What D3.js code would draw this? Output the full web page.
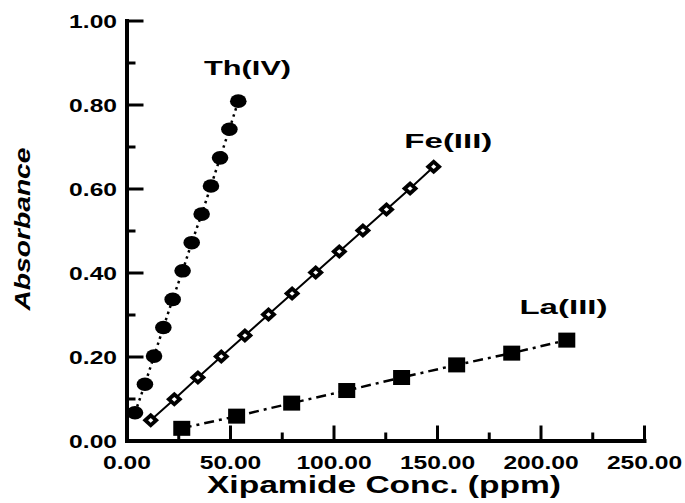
<!DOCTYPE html>
<html>
<head>
<meta charset="utf-8">
<script src="https://cdn.jsdelivr.net/npm/d3@7"></script>
<style>
  body { margin: 0; background: #fff; }
  text { font-family: "Liberation Sans", Arial, sans-serif; font-weight: bold; fill: #000; }
</style>
</head>
<body>
<div id="chart"></div>
<script>
// values
var thX = [4.1, 8.9, 13.3, 17.8, 22.3, 27.1, 31.5, 36.3, 40.8, 45.2, 49.7, 54.0];
var thY = [0.066, 0.134, 0.201, 0.269, 0.336, 0.404, 0.471, 0.539, 0.606, 0.673, 0.741, 0.808];

var feX = [11.7, 23.1, 34.5, 45.8, 57.2, 68.6, 80.0, 91.4, 102.8, 114.2, 125.6, 137.0, 148.4];
var feY = [0.048, 0.098, 0.150, 0.200, 0.250, 0.300, 0.350, 0.400, 0.450, 0.500, 0.550, 0.600, 0.652];

var laX = [26.7, 53.2, 79.8, 106.4, 132.9, 159.5, 186.1, 212.7];
var laY = [0.029, 0.058, 0.089, 0.119, 0.150, 0.180, 0.208, 0.239];

var xTicks = [0, 50, 100, 150, 200, 250];
var xMinor = [25, 75, 125, 175, 225];
var yTicks = [0, 0.2, 0.4, 0.6, 0.8, 1.0];
var yMinor = [0.1, 0.3, 0.5, 0.7, 0.9];

var seriesLabels = ["Th(IV)", "Fe(III)", "La(III)"];
var labelX = [58.5, 155.5, 211.1];
var labelY = [0.870, 0.696, 0.302];

var svgWidth = 685;
var svgHeight = 503;
var margin = { top: 20.5, left: 126.5 };
var width = 644 - margin.left;
var height = 440.5 - margin.top;

var svg = d3.select("#chart")
  .append("svg")
  .attr("width", svgWidth)
  .attr("height", svgHeight);

var chartGroup = svg.append("g")
  .attr("transform", `translate(${margin.left}, ${margin.top})`);

var xScale = d3.scaleLinear().domain([0, 250]).range([0, width]);
var yScale = d3.scaleLinear().domain([0, 1]).range([height, 0]);

// horizontal text stretch, the original lettering is wide
function stretch(sel, k) {
  sel.each(function() {
    var w = this.getComputedTextLength();
    d3.select(this)
      .attr("textLength", w * k)
      .attr("lengthAdjust", "spacingAndGlyphs");
  });
}

// minor ticks
chartGroup.append("g")
  .attr("class", "minor")
  .attr("transform", `translate(0, ${height})`)
  .call(d3.axisBottom(xScale).tickValues(xMinor).tickFormat("").tickSizeInner(-8).tickSizeOuter(0));
chartGroup.append("g")
  .attr("class", "minor")
  .call(d3.axisLeft(yScale).tickValues(yMinor).tickFormat("").tickSizeInner(-9).tickSizeOuter(0));

// major axes
var xAxisG = chartGroup.append("g")
  .attr("transform", `translate(0, ${height})`)
  .call(d3.axisBottom(xScale).tickValues(xTicks).tickFormat(d3.format(".2f"))
    .tickSizeInner(-15).tickSizeOuter(0).tickPadding(15));
var yAxisG = chartGroup.append("g")
  .call(d3.axisLeft(yScale).tickValues(yTicks).tickFormat(d3.format(".2f"))
    .tickSizeInner(-17).tickSizeOuter(0).tickPadding(9.5));

chartGroup.selectAll(".minor .domain").remove();
chartGroup.selectAll(".tick line").attr("stroke", "#000").attr("stroke-width", 3);
chartGroup.selectAll(".domain").attr("stroke", "#000").attr("stroke-width", 4)
  .attr("stroke-linecap", "square");

chartGroup.selectAll(".tick text")
  .attr("font-family", null)
  .attr("font-size", null)
  .style("font-size", "18.5px");
yAxisG.selectAll(".tick text").attr("dy", "0.36em");
stretch(chartGroup.selectAll(".tick text"), 1.33);

// lines
var line = d3.line()
  .x(d => xScale(d[0]))
  .y(d => yScale(d[1]));

var thData = thX.map((x, i) => [x, thY[i]]);
var feData = feX.map((x, i) => [x, feY[i]]);
var laData = laX.map((x, i) => [x, laY[i]]);

chartGroup.append("path")
  .datum(thData)
  .attr("d", line)
  .attr("fill", "none")
  .attr("stroke", "#000")
  .attr("stroke-width", 2.5)
  .attr("stroke-dasharray", "2.5,4");

chartGroup.append("path")
  .datum(feData)
  .attr("d", line)
  .attr("fill", "none")
  .attr("stroke", "#000")
  .attr("stroke-width", 2);

chartGroup.append("path")
  .datum(laData)
  .attr("d", line)
  .attr("fill", "none")
  .attr("stroke", "#000")
  .attr("stroke-width", 2.5)
  .attr("stroke-dasharray", "10,5,3,5");

// markers
chartGroup.selectAll(".th")
  .data(thData)
  .enter()
  .append("ellipse")
  .attr("cx", d => xScale(d[0]))
  .attr("cy", d => yScale(d[1]))
  .attr("rx", 8.3)
  .attr("ry", 6.8)
  .attr("fill", "#000");

var feG = chartGroup.selectAll(".fe")
  .data(feData)
  .enter()
  .append("g")
  .attr("transform", d => `translate(${xScale(d[0])}, ${yScale(d[1])})`);
feG.append("path")
  .attr("d", "M0,-7.5L8.3,0L0,7.5L-8.3,0Z")
  .attr("fill", "#000");
feG.append("path")
  .attr("d", "M0,-2.3L2.6,0L0,2.3L-2.6,0Z")
  .attr("fill", "#fff");

chartGroup.selectAll(".la")
  .data(laData)
  .enter()
  .append("rect")
  .attr("x", d => xScale(d[0]) - 8.5)
  .attr("y", d => yScale(d[1]) - 7.5)
  .attr("width", 17)
  .attr("height", 15)
  .attr("fill", "#000");

// series labels
var labelWidths = [87, 88, 88];
chartGroup.selectAll(".slabel")
  .data(seriesLabels)
  .enter()
  .append("text")
  .attr("x", (d, i) => xScale(labelX[i]))
  .attr("y", (d, i) => yScale(labelY[i]))
  .attr("text-anchor", "middle")
  .style("font-size", "21px")
  .attr("textLength", (d, i) => labelWidths[i])
  .attr("lengthAdjust", "spacingAndGlyphs")
  .text(d => d);

// axis titles
svg.append("text")
  .attr("x", 384)
  .attr("y", 493)
  .attr("text-anchor", "middle")
  .style("font-size", "23px")
  .attr("textLength", 354)
  .attr("lengthAdjust", "spacingAndGlyphs")
  .text("Xipamide Conc. (ppm)");

svg.append("text")
  .attr("transform", "translate(30, 229) rotate(-90)")
  .attr("text-anchor", "middle")
  .style("font-size", "22px")
  .style("font-style", "italic")
  .attr("textLength", 163)
  .attr("lengthAdjust", "spacingAndGlyphs")
  .text("Absorbance");
</script>
</body>
</html>
